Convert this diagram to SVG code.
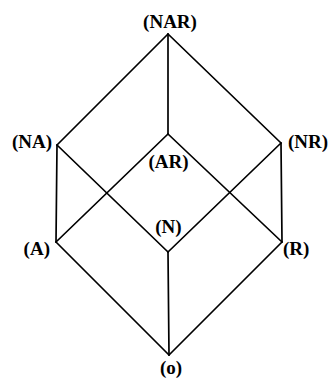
<svg xmlns="http://www.w3.org/2000/svg" width="332" height="379" viewBox="0 0 332 379">
<style>
.e{stroke:#000;stroke-width:1.7;fill:none;stroke-linecap:round}
text{font-family:"Liberation Serif","Times New Roman",serif;font-weight:bold;font-size:19px;fill:#000}
</style>
<rect width="332" height="379" fill="#fff"/>
<g id="connectors">
<line class="e" x1="168" y1="34" x2="57" y2="145"/>
<line class="e" x1="168" y1="34" x2="281" y2="143"/>
<line class="e" x1="168" y1="34" x2="168" y2="134"/>
<line class="e" x1="57" y1="145" x2="56" y2="242"/>
<line class="e" x1="57" y1="145" x2="168" y2="252"/>
<line class="e" x1="281" y1="143" x2="282" y2="242"/>
<line class="e" x1="281" y1="143" x2="168" y2="252"/>
<line class="e" x1="168" y1="134" x2="56" y2="242"/>
<line class="e" x1="168" y1="134" x2="282" y2="242"/>
<line class="e" x1="56" y1="242" x2="169" y2="355"/>
<line class="e" x1="168" y1="252" x2="169" y2="355"/>
<line class="e" x1="282" y1="242" x2="169" y2="355"/>
</g>
<g id="NAR"><text x="170" y="28" text-anchor="middle">(NAR)</text></g>
<g id="NA"><text x="52" y="148" text-anchor="end">(NA)</text></g>
<g id="NR"><text x="288" y="148">(NR)</text></g>
<g id="AR"><text x="168.5" y="168" text-anchor="middle">(AR)</text></g>
<g id="A"><text x="50" y="255" text-anchor="end">(A)</text></g>
<g id="N"><text x="168.5" y="233" text-anchor="middle">(N)</text></g>
<g id="R"><text x="283" y="255">(R)</text></g>
<g id="o"><text x="171" y="374" text-anchor="middle">(o)</text></g>
</svg>
